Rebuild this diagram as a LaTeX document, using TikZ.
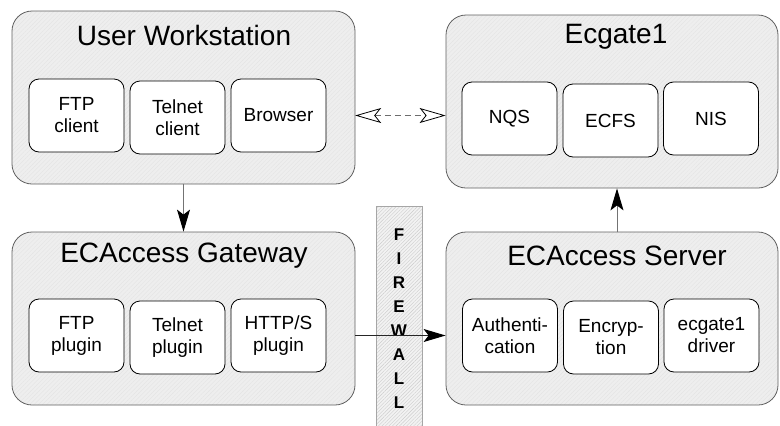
\documentclass[tikz,border=0pt]{standalone}
\usepackage{fontspec}
\setmainfont{Liberation Sans}
\usetikzlibrary{arrows.meta,patterns.meta}
\tikzset{
  bigbox/.style={draw=gray!75!black, line width=0.8pt, rounded corners=20pt,
    preaction={fill=gray!13},
    pattern={Lines[angle=45,distance=3pt,line width=0.35pt]}, pattern color=gray!22,
    minimum width=#1, minimum height=173pt, inner sep=0pt},
  title/.style={font=\fontsize{28}{32}\selectfont, anchor=center},
  comp/.style={draw=black, line width=0.8pt, fill=white, rounded corners=10pt,
    minimum width=95pt, minimum height=73pt, inner sep=0pt, align=center,
    font=\fontsize{19}{22}\selectfont},
  wallbox/.style={draw=gray!70, line width=0.6pt,
    preaction={fill=gray!10},
    pattern={Lines[angle=45,distance=2.5pt,line width=0.4pt]}, pattern color=gray!40,
    minimum width=46pt, minimum height=225pt, inner sep=0pt},
  solidarrow/.style={line width=1pt, draw=gray!90!black,
    -{Stealth[length=22pt,width=13pt,inset=5pt,color=black]}},
  dasharrow/.style={line width=1pt, draw=gray!85!black, dash pattern=on 6pt off 4pt,
    {Stealth[open,fill=white,color=black,line width=0.8pt,length=26pt,width=15pt,inset=6pt]}-{Stealth[open,fill=white,color=black,line width=0.8pt,length=26pt,width=15pt,inset=6pt]}}
}
\begin{document}
\begin{tikzpicture}[x=1pt,y=-1pt]
\useasboundingbox (0,0) rectangle (780,426);
% firewall
\node[wallbox] (wall) at (399,318.5) {};
% big boxes
\node[bigbox=343pt] (uw) at (183.5,97.5) {};
\node[bigbox=332pt] (ec) at (612,101.5) {};
\node[bigbox=343pt] (gw) at (183.5,318.5) {};
\node[bigbox=332pt] (srv) at (612,318.5) {};
% titles
\node[title] (uwt) at (184,35) {User Workstation};
\node[title] (ect) at (616,37) {Ecgate1};
\node[title] (gwt) at (184,256) {ECAccess Gateway};
\node[title] (srvt) at (617,256) {ECAccess Server};
% components
\node[comp] (ftpc) at (76.5,115.5) {FTP\\client};
\node[comp] (telc) at (177.5,117.5) {Telnet\\client};
\node[comp] (brow) at (278.5,115.5) {Browser};
\node[comp] (nqs) at (509.5,118.5) {NQS};
\node[comp] (ecfs) at (610.5,120.5) {ECFS};
\node[comp] (nis) at (711,118.5) {NIS};
\node[comp] (ftpp) at (76.5,335.5) {FTP\\plugin};
\node[comp] (telp) at (177.5,337.5) {Telnet\\plugin};
\node[comp] (http) at (278.5,335.5) {HTTP/S\\plugin};
\node[comp] (auth) at (510,335.5) {Authenti-\\cation};
\node[comp] (encr) at (611,337.5) {Encryp-\\tion};
\node[comp] (drv) at (711.5,335.5) {ecgate1\\driver};
% firewall text
\node[font=\fontsize{17}{24}\selectfont\bfseries, align=center, inner sep=0pt] (wallt) at (399,319)
  {F\\I\\R\\E\\W\\A\\L\\L};
% connectors
\draw[solidarrow] (uw.south) -- (gw.north);
\draw[solidarrow] ([xshift=5pt]srv.north) -- ([xshift=5pt]ec.south);
\draw[solidarrow, draw=black!85] (gw.east |- http) -- (srv.west |- http);
\draw[dasharrow] (uw.east |- brow) -- (ec.west |- brow);
\end{tikzpicture}
\end{document}
